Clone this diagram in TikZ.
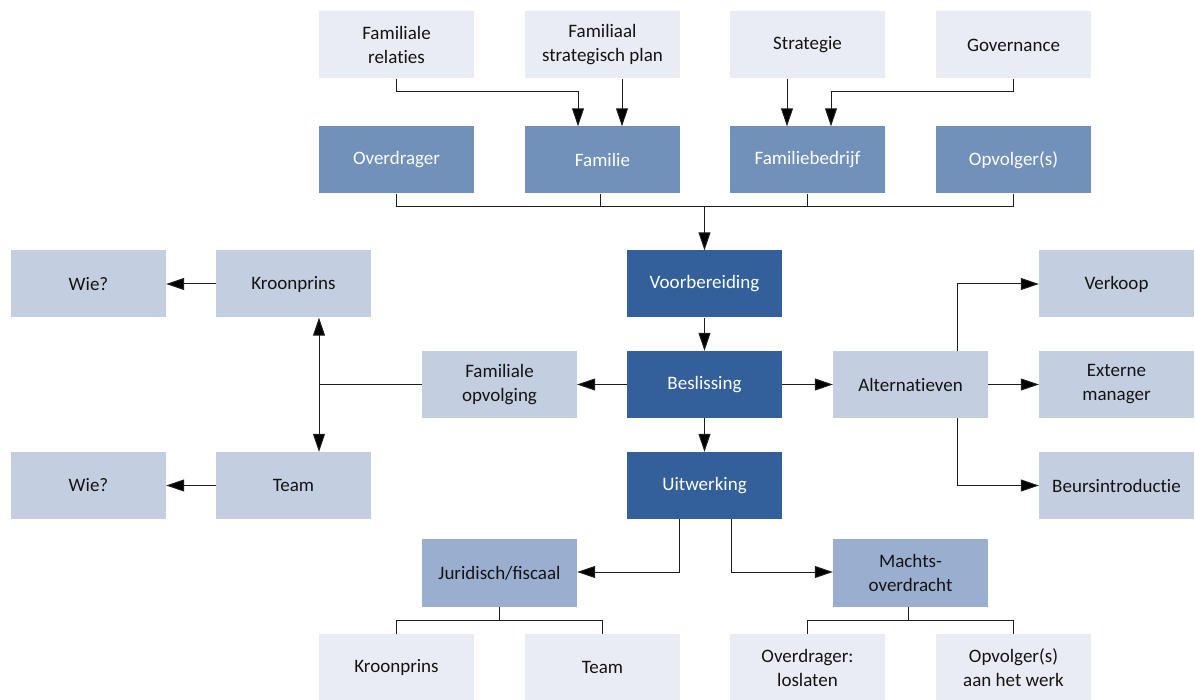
\documentclass[tikz,border=0pt]{standalone}
\usepackage{fontspec}
\setmainfont{Carlito}
\usetikzlibrary{arrows.meta}
\definecolor{cTop}{HTML}{E9ECF4}
\definecolor{cMid}{HTML}{7191BB}
\definecolor{cDark}{HTML}{33609A}
\definecolor{cLight}{HTML}{C3CFE1}
\definecolor{cSemi}{HTML}{9AAFCF}
\definecolor{cTxt}{HTML}{141414}
\definecolor{cLine}{HTML}{1E1E1E}
\begin{document}
\begin{tikzpicture}[x=1pt,y=-1pt,
  box/.style={minimum width=155pt, minimum height=67pt, inner sep=0pt, align=center,
    font=\fontsize{19}{24}\selectfont, text=cTxt},
  toprow/.style={box, fill=cTop},
  midrow/.style={box, fill=cMid, text=white},
  darkbox/.style={box, fill=cDark, text=white},
  lightbox/.style={box, fill=cLight},
  semibox/.style={box, fill=cSemi},
  ln/.style={draw=cLine, line width=1pt},
  arr/.style={ln, -{Triangle[length=18pt,width=12pt,fill=black]}}]
\useasboundingbox (0,0) rectangle (1195,700);
\fill[white] (0,0) rectangle (1195,700);
% top row
\node[toprow] (fr)  at (396.5,45) {Familiale\\relat\kern0pt ies};
\node[toprow] (fsp) at (602.5,45) {Familiaal\\strategisch plan};
\node[toprow] (str) at (807.5,45) {Strategie};
\node[toprow] (gov) at (1013.5,45) {Governance};
% second row
\node[midrow] (ov)  at (396.5,160) {Overdrager};
\node[midrow] (fam) at (602.5,160) {Familie};
\node[midrow] (fb)  at (807.5,160) {Familiebedrijf};
\node[midrow] (op)  at (1013.5,160) {Opvolger(s)};
% centre column
\node[darkbox] (voor) at (704.5,284) {Voorbereiding};
\node[darkbox] (besl) at (704.5,384.5) {Beslissing};
\node[darkbox] (uit)  at (704.5,485.5) {Uitwerking};
% left
\node[lightbox] (fo)  at (499.5,384.5) {Familiale\\opvolging};
\node[lightbox] (kp)  at (293.5,284) {Kroonprins};
\node[lightbox] (tm)  at (293.5,485.5) {Team};
\node[lightbox] (w1)  at (88.5,284) {Wie?};
\node[lightbox] (w2)  at (88.5,485.5) {Wie?};
% right
\node[lightbox] (alt) at (910.5,384.5) {Alternat\kern0pt ieven};
\node[lightbox] (vk)  at (1116.5,284) {Verkoop};
\node[lightbox] (ext) at (1116.5,384.5) {Externe\\manager};
\node[lightbox] (beu) at (1116.5,485.5) {Beursintroduct\kern0pt ie};
% lower
\node[semibox] (jur) at (499.5,573) {Juridisch/fiscaal};
\node[semibox] (mac) at (910.5,573) {Machts-\\overdracht};
\node[toprow] (b1) at (396.5,667.5) {Kroonprins};
\node[toprow] (b2) at (602.5,667.5) {Team};
\node[toprow] (b3) at (807.5,667.5) {Overdrager:\\loslaten};
\node[toprow] (b4) at (1013.5,667.5) {Opvolger(s)\\aan het werk};
% top connectors
\draw[arr] (fr.south) -- ++(0,13) -| ([xshift=-24.5pt]fam.north);
\draw[arr] ([xshift=19.5pt]fsp.south) -- ([xshift=19.5pt]fam.north);
\draw[arr] ([xshift=-20.5pt]str.south) -- ([xshift=-20.5pt]fb.north);
\draw[arr] (gov.south) -- ++(0,13) -| ([xshift=23.5pt]fb.north);
% bus
\draw[ln] (ov.south) -- ++(0,12.5) -| (op.south);
\draw[ln] ([xshift=-2pt]fam.south) -- ++(0,12.5);
\draw[ln] (fb.south) -- ++(0,12.5);
\draw[arr] ([yshift=44pt]voor.north) -- (voor.north);
% centre
\draw[arr] (voor) -- (besl);
\draw[arr] (besl) -- (uit);
\draw[arr] (besl) -- (fo);
\draw[arr] (besl) -- (alt);
% left
\coordinate (jl) at ([xshift=25.5pt]kp.south |- fo.west);
\draw[ln] (fo.west) -- (jl);
\draw[arr] (jl) -- ([xshift=25.5pt]kp.south);
\draw[arr] (jl) -- ([xshift=25.5pt]tm.north);
\draw[arr] (kp) -- (w1);
\draw[arr] (tm) -- (w2);
% right
\draw[arr] ([xshift=46.5pt]alt.north) |- (vk.west);
\draw[arr] (alt) -- (ext);
\draw[arr] ([xshift=46.5pt]alt.south) |- (beu.west);
% lower
\draw[arr] ([xshift=-25.5pt]uit.south) |- ([yshift=1pt]jur.east);
\draw[arr] ([xshift=26.5pt]uit.south) |- ([yshift=1pt]mac.west);
\draw[ln] (jur.south) -- ++(0,14);
\draw[ln] (b1.north) -- ++(0,-13) -| (b2.north);
\draw[ln] ([xshift=-2pt]mac.south) -- ++(0,14);
\draw[ln] (b3.north) -- ++(0,-13) -| (b4.north);
\end{tikzpicture}
\end{document}
